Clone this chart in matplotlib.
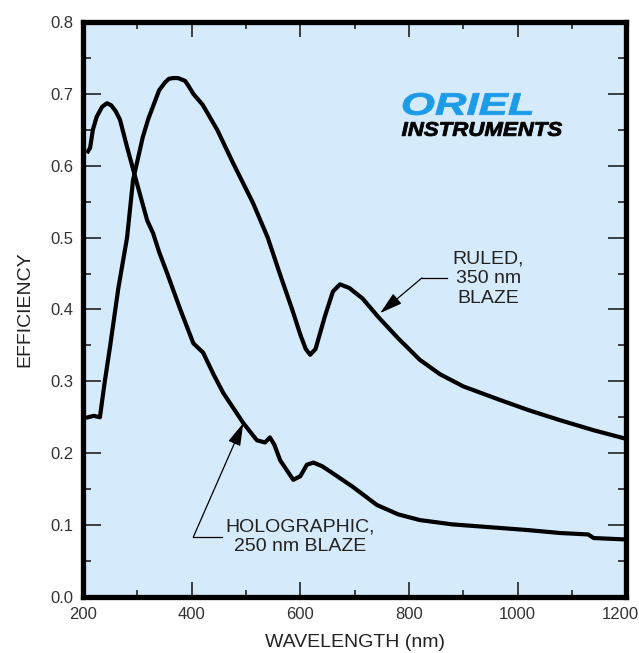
import numpy as np
import matplotlib
matplotlib.use('Agg')
from matplotlib import pyplot as plt
from matplotlib.textpath import TextPath
from matplotlib.patches import PathPatch
from matplotlib.font_manager import FontProperties
from matplotlib.transforms import Affine2D, IdentityTransform, ScaledTranslation

plt.rcParams['font.family'] = ['Liberation Sans', 'DejaVu Sans']

# Ruled grating, 350 nm blaze (wavelength nm, efficiency)
ruled_wl = [209, 220, 231, 240, 250, 265, 281, 292, 310, 320, 340, 351, 358, 366, 375,
            388, 395, 403, 420, 447, 476, 513, 540, 563, 585, 600, 610, 618, 628, 645,
            660, 673, 690, 715, 743, 780, 820, 857, 900, 968, 1020, 1078, 1140, 1200]
ruled_eff = [0.25, 0.252, 0.25, 0.30, 0.35, 0.43, 0.50, 0.58, 0.64, 0.665, 0.705, 0.716,
             0.721, 0.722, 0.722, 0.718, 0.71, 0.70, 0.685, 0.65, 0.604, 0.548, 0.50,
             0.448, 0.40, 0.365, 0.345, 0.337, 0.345, 0.39, 0.425, 0.435, 0.43, 0.415,
             0.39, 0.36, 0.33, 0.31, 0.293, 0.274, 0.26, 0.246, 0.232, 0.22]

# Holographic grating, 250 nm blaze
holo_wl = [209, 213, 218, 225, 235, 244, 252, 260, 268, 281, 299, 318, 329, 340, 355,
           379, 403, 421, 440, 458, 495, 520, 535, 544, 552, 563, 587, 600, 612, 624,
           640, 660, 697, 741, 780, 820, 880, 968, 1020, 1078, 1130, 1140, 1200]
holo_eff = [0.62, 0.625, 0.65, 0.668, 0.682, 0.687, 0.684, 0.676, 0.664, 0.626, 0.576,
            0.524, 0.506, 0.48, 0.45, 0.40, 0.353, 0.34, 0.31, 0.284, 0.242, 0.218,
            0.215, 0.222, 0.212, 0.19, 0.163, 0.168, 0.184, 0.187, 0.182, 0.172, 0.153,
            0.128, 0.115, 0.107, 0.101, 0.096, 0.093, 0.089, 0.087, 0.082, 0.08]

x_major = [200, 400, 600, 800, 1000, 1200]
y_major = [0.0, 0.1, 0.2, 0.3, 0.4, 0.5, 0.6, 0.7, 0.8]

fig = plt.figure(figsize=(6.39, 6.53), dpi=100)
ax = fig.add_axes([0.130, 0.0858, 0.850, 0.8805])
ax.set_facecolor('#d5eafa')

ax.plot(ruled_wl, ruled_eff, color='black', lw=3.0, solid_joinstyle='round')
ax.plot(holo_wl, holo_eff, color='black', lw=3.0, solid_joinstyle='round')

ax.set_xlim(200, 1200)
ax.set_ylim(0, 0.8)
ax.set_xticks(x_major)
ax.set_xticks(np.arange(300, 1200, 200), minor=True)
ax.set_yticks(y_major)
ax.set_yticks(np.arange(0.05, 0.8, 0.1), minor=True)
ax.set_yticklabels(['%.1f' % v for v in y_major])
ax.tick_params(which='both', direction='in', top=True, right=True, width=1.2,
               color='#222222', labelsize=12, labelcolor='#333333')
ax.tick_params(axis='y', which='major', length=13, pad=7)
ax.tick_params(axis='y', which='minor', length=6)
ax.tick_params(axis='x', which='major', length=11, pad=7)
ax.tick_params(axis='x', which='minor', length=5)
for s in ax.spines.values():
    s.set_linewidth(3.8)

# last x label sits a little left so it stays inside the picture
lbl = ax.get_xticklabels()[-1]
lbl.set_transform(lbl.get_transform() + ScaledTranslation(-6 / 100, 0, fig.dpi_scale_trans))

ax.set_xlabel('WAVELENGTH (nm)', fontsize=14, color='#222222', labelpad=9)
ax.set_ylabel('EFFICIENCY', fontsize=14, color='#222222', labelpad=12)

# annotations
arrow = dict(arrowstyle='-|>,head_length=1.4,head_width=0.4',
             color='black', lw=0.9, shrinkA=0, shrinkB=0)
ax.text(946, 0.443, 'RULED,\n350 nm\nBLAZE', ha='center', va='center', fontsize=14,
        color='#222222', linespacing=1.2)
ax.plot([870, 824], [0.444, 0.444], color='black', lw=0.9)
ax.annotate('', xy=(747, 0.395), xytext=(824, 0.444), arrowprops=arrow)

ax.text(600, 0.0835, 'HOLOGRAPHIC,\n250 nm BLAZE', ha='center', va='center', fontsize=14,
        color='#222222', linespacing=1.2)
ax.plot([456, 403], [0.0835, 0.0835], color='black', lw=0.9)
ax.annotate('', xy=(495, 0.242), xytext=(403, 0.0835), arrowprops=arrow)

# logo, stretched to the box it takes in the picture (pixels from top-left)
H = 653
logo_font = FontProperties(family='Liberation Sans', weight='bold', style='italic')


def logo_text(s, x0, x1, ytop, ybot, color):
    tp = TextPath((0, 0), s, size=20, prop=logo_font)
    ext = tp.get_extents()
    sx = (x1 - x0) / ext.width
    sy = (ybot - ytop) / ext.height
    tr = Affine2D().translate(-ext.x0, -ext.y0).scale(sx, sy).translate(x0, H - ybot)
    fig.add_artist(PathPatch(tr.transform_path(tp), facecolor=color, edgecolor=color,
                             lw=0.6, transform=IdentityTransform()))


logo_text('ORIEL', 403, 532, 93, 115, '#1e9be8')
logo_text('INSTRUMENTS', 402, 562, 122, 136, 'black')

fig.savefig('out.png', dpi=100)
